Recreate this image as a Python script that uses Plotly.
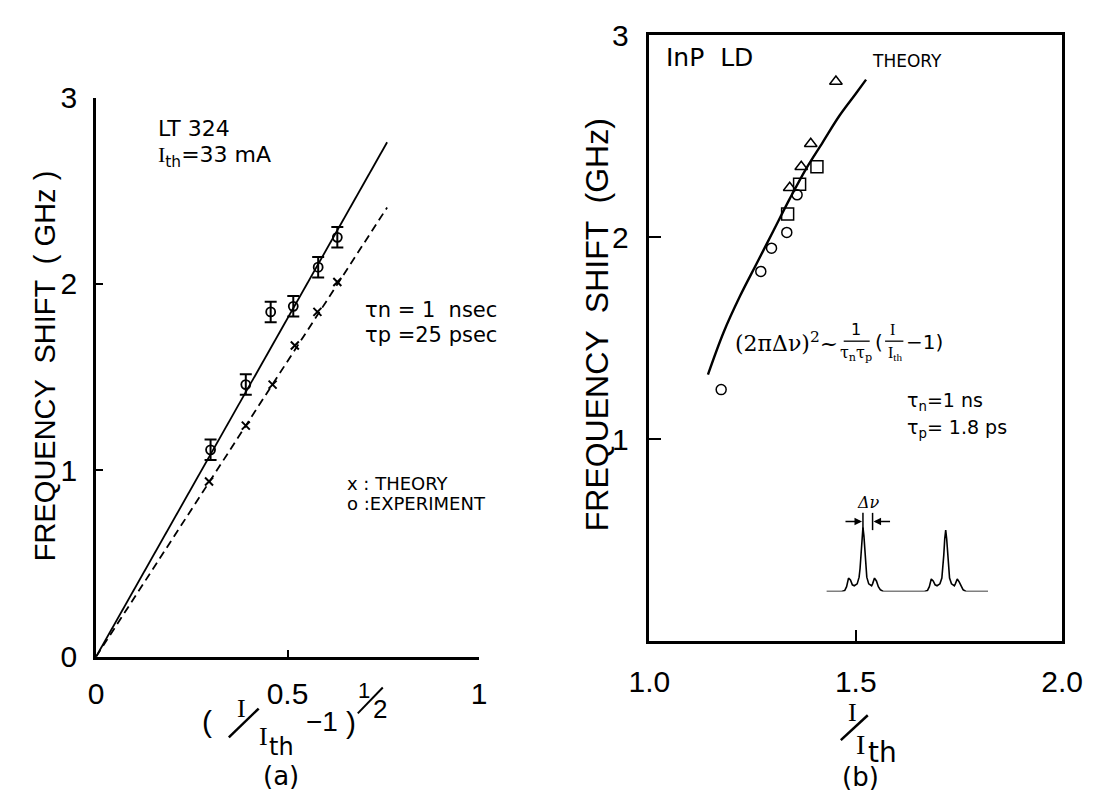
import plotly.graph_objects as go

W, H = 1112, 809

# ---------------- Panel (a) data ----------------
a_exp_x = [0.299, 0.391, 0.456, 0.515, 0.580, 0.630]
a_exp_y = [1.11, 1.46, 1.85, 1.88, 2.09, 2.25]
a_exp_err = [0.055, 0.055, 0.055, 0.055, 0.055, 0.055]
a_th_x = [0.295, 0.391, 0.461, 0.519, 0.578, 0.630]
a_th_y = [0.94, 1.24, 1.46, 1.67, 1.85, 2.01]
a_fit_x = [0.0, 0.76]
a_fit_exp = [0.0, 2.76]
a_fit_th = [0.0, 2.41]
a_xticks = [0, 0.5, 1]
a_xticktext = ["0", "0.5", "1"]
a_yticks = [0, 1, 2, 3]
a_yticktext = ["0", "1", "2", "3"]

# ---------------- Panel (b) data ----------------
b_circ_x = [1.174, 1.270, 1.296, 1.333, 1.358]
b_circ_y = [1.246, 1.831, 1.946, 2.024, 2.210]
b_sq_x = [1.335, 1.364, 1.406]
b_sq_y = [2.115, 2.262, 2.349]
b_tri_x = [1.340, 1.368, 1.391, 1.452]
b_tri_y = [2.245, 2.349, 2.463, 2.771]
b_th_x = [1.142, 1.18, 1.22, 1.26, 1.30, 1.34, 1.38, 1.42, 1.46, 1.50, 1.525]
b_th_y = [1.32, 1.53, 1.71, 1.87, 2.03, 2.19, 2.34, 2.47, 2.60, 2.71, 2.78]
b_xticks = [1.0, 1.5, 2.0]
b_xticktext = ["1.0", "1.5", "2.0"]
b_yticks = [1, 2, 3]
b_yticktext = ["1", "2", "3"]

# inset spectrum sketch (arbitrary units)
inset_x = [0, 16, 19, 21, 23, 25, 27, 29, 32, 34, 35, 36, 37, 38, 39, 40, 41, 42, 44, 47, 48, 50, 52, 54, 56, 59,
           102, 105, 107, 109, 111, 113, 115, 118, 120, 121, 122, 123, 124, 125, 126, 127, 128, 130, 133, 134, 136,
           138, 140, 142, 145, 168]
inset_y = [0, 0, 1, 5, 14, 12, 7, 6, 8, 15, 24, 40, 58, 67, 58, 40, 24, 15, 8, 6, 8, 14, 11, 5, 2, 0,
           0, 1, 5, 13, 11, 7, 6, 8, 14, 23, 38, 55, 64, 55, 38, 23, 14, 8, 6, 8, 13,
           10, 5, 2, 0, 0]


def px(x):
    return x / W


def py(y):
    return 1 - y / H


FONT = "Liberation Sans"
fig = go.Figure()

# panel (a)
fig.add_trace(go.Scatter(x=a_fit_x, y=a_fit_exp, mode="lines", line=dict(color="black", width=1.8),
                         xaxis="x", yaxis="y", showlegend=False))
fig.add_trace(go.Scatter(x=a_fit_x, y=a_fit_th, mode="lines", line=dict(color="black", width=1.8, dash="8px,5px"),
                         xaxis="x", yaxis="y", showlegend=False))
fig.add_trace(go.Scatter(x=a_exp_x, y=a_exp_y, mode="markers",
                         marker=dict(symbol="circle-open", size=9, color="black", line=dict(width=1.8)),
                         error_y=dict(type="data", array=a_exp_err, color="black", thickness=2, width=6),
                         xaxis="x", yaxis="y", showlegend=False))
fig.add_trace(go.Scatter(x=a_th_x, y=a_th_y, mode="markers",
                         marker=dict(symbol="x-thin", size=8, color="black", line=dict(width=2, color="black")),
                         xaxis="x", yaxis="y", showlegend=False))

# panel (b)
fig.add_trace(go.Scatter(x=b_th_x, y=b_th_y, mode="lines", line=dict(color="black", width=2.4, shape="spline"),
                         xaxis="x2", yaxis="y2", showlegend=False))
fig.add_trace(go.Scatter(x=b_circ_x, y=b_circ_y, mode="markers",
                         marker=dict(symbol="circle-open", size=10, color="black", line=dict(width=1.5)),
                         xaxis="x2", yaxis="y2", showlegend=False))
fig.add_trace(go.Scatter(x=b_sq_x, y=b_sq_y, mode="markers",
                         marker=dict(symbol="square-open", size=12, color="black", line=dict(width=1.5)),
                         xaxis="x2", yaxis="y2", showlegend=False))
fig.add_trace(go.Scatter(x=b_tri_x, y=b_tri_y, mode="markers",
                         marker=dict(symbol="triangle-up-open", size=11, color="black", line=dict(width=1.5)),
                         xaxis="x2", yaxis="y2", showlegend=False))

# inset
fig.add_trace(go.Scatter(x=inset_x, y=inset_y, mode="lines", line=dict(color="black", width=1.6),
                         xaxis="x3", yaxis="y3", showlegend=False))

axis_common = dict(showgrid=False, zeroline=False, showline=True, linecolor="black", ticks="inside",
                   tickcolor="black", tickfont=dict(family=FONT, size=30, color="black"))

fig.update_layout(
    width=W, height=H, margin=dict(l=0, r=0, t=0, b=0),
    paper_bgcolor="white", plot_bgcolor="rgba(0,0,0,0)",
    xaxis=dict(domain=[px(78), px(476)], range=[0, 1], tickvals=a_xticks, ticktext=a_xticktext,
               linewidth=2.5, ticklen=7, tickwidth=2, anchor="y", ticklabelstandoff=8, **axis_common),
    yaxis=dict(domain=[py(668), py(85)], range=[0, 3], tickvals=a_yticks, ticktext=a_yticktext,
               linewidth=2.5, ticklen=7, tickwidth=2, anchor="x", ticklabelstandoff=10, **axis_common),
    xaxis2=dict(domain=[px(653), px(1082)], range=[1, 2], tickvals=b_xticks, ticktext=b_xticktext,
                linewidth=2.5, ticklen=12, tickwidth=2, mirror=True, anchor="y2", ticklabelstandoff=12,
                **axis_common),
    yaxis2=dict(domain=[py(652), py(20)], range=[0, 3], tickvals=b_yticks, ticktext=b_yticktext,
                linewidth=2.5, ticklen=12, tickwidth=2, mirror=True, anchor="x2", ticklabelstandoff=12,
                **axis_common),
    xaxis3=dict(domain=[px(837), px(1005)], range=[0, 168], visible=False, anchor="y3"),
    yaxis3=dict(domain=[py(600), py(533)], range=[0, 67], visible=False, anchor="x3"),
)

ann = []


def text(x, y, t, size=20, family=FONT, xanchor="center", yanchor="middle", angle=0):
    ann.append(dict(x=px(x), y=py(y), xref="paper", yref="paper", text=t, showarrow=False,
                    font=dict(family=family, size=size, color="black"), xanchor=xanchor, yanchor=yanchor,
                    textangle=angle))


SERIF = "Liberation Serif"
SANS = "DejaVu Sans"
# panel (a) texts
text(25, 365, "FREQUENCY  SHIFT  ( GHz )", size=29, angle=-90)
text(140, 117, "LT 324", size=22, family=SANS, xanchor="left")
text(140, 146, "<span style='font-family:Liberation Serif'>I</span><sub>th</sub>=33 mA", size=22,
     family=SANS, xanchor="left")
text(355, 307, "τn = 1  nsec", size=21, family=SANS, xanchor="left")
text(355, 333, "τp =25 psec", size=21, family=SANS, xanchor="left")
text(337, 487, "x : THEORY", size=18, family=SANS, xanchor="left")
text(337, 508, "o :EXPERIMENT", size=18, family=SANS, xanchor="left")
# x label of (a)
text(193, 735, "(", size=30)
text(229, 722, "I", size=26, family=SERIF)
text(252, 751, "I", size=26, family=SERIF)
text(271, 762, "th", size=24, family=SANS)
text(313, 735, "−1", size=28)
text(343, 737, ")", size=30)
text(356, 703, "1", size=22)
text(373, 722, "2", size=26)
text(270, 792, "(a)", size=26, family=SANS)

# panel (b) texts
text(598, 322, "FREQUENCY  SHIFT  (GHz)", size=32, angle=-90)
text(668, 43, "InP  LD", size=25, family=SANS, xanchor="left")
text(882, 47, "THEORY", size=17, family=SANS, xanchor="left")
text(740, 340, "(2πΔν)<sup>2</sup>~", size=22, family="DejaVu Serif", xanchor="left")
text(868, 327, "1", size=16, family=SANS)
text(868, 352, "τ<sub>n</sub>τ<sub>p</sub>", size=16, family="DejaVu Serif")
text(892, 340, "(", size=20, family=SANS)
text(906, 327, "I", size=16, family=SERIF)
text(908, 352, "I<sub>th</sub>", size=16, family=SERIF)
text(918, 340, "−1)", size=20, family=SANS, xanchor="left")
text(919, 402, "τ<sub>n</sub>=1 ns", size=19, family=SANS, xanchor="left")
text(919, 430, "τ<sub>p</sub>= 1.8 ps", size=19, family=SANS, xanchor="left")
text(881, 507, "<i>Δν</i>", size=16, family="DejaVu Serif")
text(864, 726, "I", size=26, family=SERIF)
text(872, 760, "I", size=28, family=SERIF)
text(895, 768, "th", size=28, family=SANS)
text(872, 793, "(b)", size=26, family=SANS)

# arrows for Δν
ann.append(dict(x=px(874), y=py(527), xref="paper", yref="paper", ax=-18, ay=0, showarrow=True,
                arrowhead=2, arrowsize=1, arrowwidth=1.5, arrowcolor="black", text=""))
ann.append(dict(x=px(886), y=py(527), xref="paper", yref="paper", ax=18, ay=0, showarrow=True,
                arrowhead=2, arrowsize=1, arrowwidth=1.5, arrowcolor="black", text=""))
fig.update_layout(annotations=ann)

shapes = []
# fraction bars / slashes
shapes.append(dict(type="line", xref="paper", yref="paper", x0=px(216), y0=py(752), x1=px(247), y1=py(722),
                   line=dict(color="black", width=2.5)))
shapes.append(dict(type="line", xref="paper", yref="paper", x0=px(350), y0=py(727), x1=px(376), y1=py(700),
                   line=dict(color="black", width=2)))
shapes.append(dict(type="line", xref="paper", yref="paper", x0=px(852), y0=py(755), x1=px(880), y1=py(729),
                   line=dict(color="black", width=2.5)))
shapes.append(dict(type="line", xref="paper", yref="paper", x0=px(855), y0=py(339), x1=px(882), y1=py(339),
                   line=dict(color="black", width=1.3)))
shapes.append(dict(type="line", xref="paper", yref="paper", x0=px(898), y0=py(339), x1=px(917), y1=py(339),
                   line=dict(color="black", width=1.3)))
# Δν bars
shapes.append(dict(type="line", xref="paper", yref="paper", x0=px(875), y0=py(518), x1=px(875), y1=py(536),
                   line=dict(color="black", width=1.5)))
shapes.append(dict(type="line", xref="paper", yref="paper", x0=px(885), y0=py(518), x1=px(885), y1=py(536),
                   line=dict(color="black", width=1.5)))
fig.update_layout(shapes=shapes)

fig.write_html("out.html")
